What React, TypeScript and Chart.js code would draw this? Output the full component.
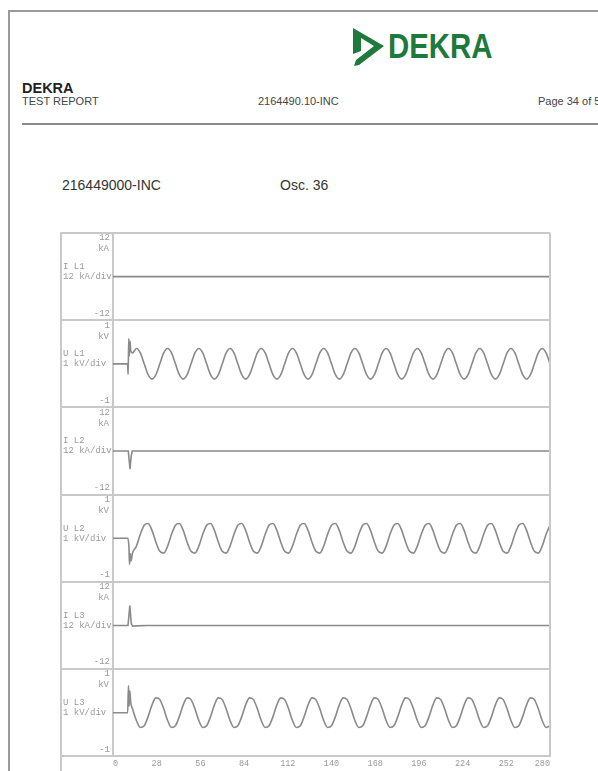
import React, { useEffect, useRef } from 'react';
import { Chart, registerables } from 'chart.js';

Chart.register(...registerables);

// ---------- axis / panel definitions ----------
const xTicks = [0, 28, 56, 84, 112, 140, 168, 196, 224, 252, 280];
const panelIds = ['y1', 'y2', 'y3', 'y4', 'y5', 'y6'];
const panelNames = ['I L1', 'U L1', 'I L2', 'U L2', 'I L3', 'U L3'];
const panelDivs = ['12 kA/div', '1 kV/div', '12 kA/div', '1 kV/div', '12 kA/div', '1 kV/div'];
const panelUnits = ['kA', 'kV', 'kA', 'kV', 'kA', 'kV'];
const panelMax = [12, 1, 12, 1, 12, 1];
const panelMin = [-12, -1, -12, -1, -12, -1];

// ---------- current traces (kA) ----------
const iL1Time = [0, 280];
const iL1Value = [0, 0];
const iL2Time = [0, 9.8, 10.9, 11.6, 12.3, 280];
const iL2Value = [0, 0, -5.0, -1.5, 0, 0];
const iL3Time = [0, 9.6, 10.8, 11.7, 12.5, 14.5, 22, 280];
const iL3Value = [0, 0, 5.5, 0.6, -0.2, -0.1, 0, 0];

// ---------- voltage traces (kV) ----------
const uL1EventTime = [0, 9.3, 9.7, 10.1, 10.5, 10.9, 11.4];
const uL1EventValue = [0, 0, -0.24, 0.58, 0.18, 0.52, 0.3];
const uL2EventTime = [0, 9.5, 10.2, 10.6, 11.0, 11.5];
const uL2EventValue = [0, 0, -0.2, -0.6, -0.35, -0.52];
const uL3EventTime = [0, 9.4, 9.9, 10.3, 10.8, 11.3];
const uL3EventValue = [0, 0, 0.62, 0.15, 0.5, 0.25];

const waveTime = [
  12.5, 15, 17.5, 20, 22.5, 25, 27.5, 30,
  32.5, 35, 37.5, 40, 42.5, 45, 47.5, 50,
  52.5, 55, 57.5, 60, 62.5, 65, 67.5, 70,
  72.5, 75, 77.5, 80, 82.5, 85, 87.5, 90,
  92.5, 95, 97.5, 100, 102.5, 105, 107.5, 110,
  112.5, 115, 117.5, 120, 122.5, 125, 127.5, 130,
  132.5, 135, 137.5, 140, 142.5, 145, 147.5, 150,
  152.5, 155, 157.5, 160, 162.5, 165, 167.5, 170,
  172.5, 175, 177.5, 180, 182.5, 185, 187.5, 190,
  192.5, 195, 197.5, 200, 202.5, 205, 207.5, 210,
  212.5, 215, 217.5, 220, 222.5, 225, 227.5, 230,
  232.5, 235, 237.5, 240, 242.5, 245, 247.5, 250,
  252.5, 255, 257.5, 260, 262.5, 265, 267.5, 270,
  272.5, 275, 277.5, 280,
];

const uL1Wave = [
  0.25, 0.35, 0.25, 0, -0.25, -0.35, -0.25, 0,
  0.25, 0.35, 0.25, 0, -0.25, -0.35, -0.25, 0,
  0.25, 0.35, 0.25, 0, -0.25, -0.35, -0.25, 0,
  0.25, 0.35, 0.25, 0, -0.25, -0.35, -0.25, 0,
  0.25, 0.35, 0.25, 0, -0.25, -0.35, -0.25, 0,
  0.25, 0.35, 0.25, 0, -0.25, -0.35, -0.25, 0,
  0.25, 0.35, 0.25, 0, -0.25, -0.35, -0.25, 0,
  0.25, 0.35, 0.25, 0, -0.25, -0.35, -0.25, 0,
  0.25, 0.35, 0.25, 0, -0.25, -0.35, -0.25, 0,
  0.25, 0.35, 0.25, 0, -0.25, -0.35, -0.25, 0,
  0.25, 0.35, 0.25, 0, -0.25, -0.35, -0.25, 0,
  0.25, 0.35, 0.25, 0, -0.25, -0.35, -0.25, 0,
  0.25, 0.35, 0.25, 0, -0.25, -0.35, -0.25, 0,
  0.25, 0.35, 0.25, 0,
];

const uL2Wave = [
  -0.34, -0.18, 0.09, 0.3, 0.34, 0.18, -0.09, -0.3,
  -0.34, -0.18, 0.09, 0.3, 0.34, 0.18, -0.09, -0.3,
  -0.34, -0.18, 0.09, 0.3, 0.34, 0.18, -0.09, -0.3,
  -0.34, -0.18, 0.09, 0.3, 0.34, 0.18, -0.09, -0.3,
  -0.34, -0.18, 0.09, 0.3, 0.34, 0.18, -0.09, -0.3,
  -0.34, -0.18, 0.09, 0.3, 0.34, 0.18, -0.09, -0.3,
  -0.34, -0.18, 0.09, 0.3, 0.34, 0.18, -0.09, -0.3,
  -0.34, -0.18, 0.09, 0.3, 0.34, 0.18, -0.09, -0.3,
  -0.34, -0.18, 0.09, 0.3, 0.34, 0.18, -0.09, -0.3,
  -0.34, -0.18, 0.09, 0.3, 0.34, 0.18, -0.09, -0.3,
  -0.34, -0.18, 0.09, 0.3, 0.34, 0.18, -0.09, -0.3,
  -0.34, -0.18, 0.09, 0.3, 0.34, 0.18, -0.09, -0.3,
  -0.34, -0.18, 0.09, 0.3, 0.34, 0.18, -0.09, -0.3,
  -0.34, -0.18, 0.09, 0.3,
];

const uL3Wave = [
  0.09, -0.18, -0.34, -0.3, -0.09, 0.18, 0.34, 0.3,
  0.09, -0.18, -0.34, -0.3, -0.09, 0.18, 0.34, 0.3,
  0.09, -0.18, -0.34, -0.3, -0.09, 0.18, 0.34, 0.3,
  0.09, -0.18, -0.34, -0.3, -0.09, 0.18, 0.34, 0.3,
  0.09, -0.18, -0.34, -0.3, -0.09, 0.18, 0.34, 0.3,
  0.09, -0.18, -0.34, -0.3, -0.09, 0.18, 0.34, 0.3,
  0.09, -0.18, -0.34, -0.3, -0.09, 0.18, 0.34, 0.3,
  0.09, -0.18, -0.34, -0.3, -0.09, 0.18, 0.34, 0.3,
  0.09, -0.18, -0.34, -0.3, -0.09, 0.18, 0.34, 0.3,
  0.09, -0.18, -0.34, -0.3, -0.09, 0.18, 0.34, 0.3,
  0.09, -0.18, -0.34, -0.3, -0.09, 0.18, 0.34, 0.3,
  0.09, -0.18, -0.34, -0.3, -0.09, 0.18, 0.34, 0.3,
  0.09, -0.18, -0.34, -0.3, -0.09, 0.18, 0.34, 0.3,
  0.09, -0.18, -0.34, -0.3,
];

// ---------- styles ----------
const FRAME = '#c9c9c9';
const TRACE = '#8a8a8a';
const LABEL = '#9a9a9a';
const MONO = '"Liberation Mono", "DejaVu Sans Mono", monospace';
const SANS = '"Liberation Sans", Arial, sans-serif';
const GREEN = '#1d7a3c';

const zip = (t: number[], v: number[]) => t.map((x, i) => ({ x, y: v[i] }));

const oscLabels = {
  id: 'oscLabels',
  afterDraw(chart: any) {
    const ctx = chart.ctx;
    const area = chart.chartArea;
    const first = chart.scales[panelIds[0]];
    const canvasBottom = chart.height;
    ctx.save();
    // outer frame (left edge of label column and right edge)
    ctx.strokeStyle = FRAME;
    ctx.lineWidth = 2;
    ctx.beginPath();
    ctx.moveTo(first.left + 1, area.top);
    ctx.lineTo(first.left + 1, canvasBottom);
    ctx.moveTo(area.right, area.top);
    ctx.lineTo(area.right, area.bottom);
    ctx.stroke();

    ctx.fillStyle = LABEL;
    ctx.font = `9px ${MONO}`;
    panelIds.forEach((id, i) => {
      const s = chart.scales[id];
      const zero = s.getPixelForValue(0);
      ctx.textBaseline = 'middle';
      ctx.textAlign = 'right';
      ctx.fillText(String(panelMax[i]), s.right - 3, s.top + 5);
      ctx.fillText(panelUnits[i], s.right - 4, s.top + 16);
      ctx.fillText(String(panelMin[i]), s.right - 3, s.bottom - 7);
      ctx.textAlign = 'left';
      ctx.fillText(panelNames[i], s.left + 3, zero - 10);
      ctx.fillText(panelDivs[i], s.left + 3, zero);
    });
    ctx.restore();
  },
};

function OscChart() {
  const ref = useRef<HTMLCanvasElement>(null);
  useEffect(() => {
    const canvas = ref.current;
    if (!canvas) return;
    const scales: any = {
      x: {
        type: 'linear',
        position: 'bottom',
        min: 0,
        max: 280,
        afterBuildTicks: (s: any) => {
          s.ticks = xTicks.map((v) => ({ value: v }));
        },
        ticks: {
          autoSkip: false,
          maxRotation: 0,
          align: 'inner',
          padding: 2,
          color: LABEL,
          font: { family: MONO, size: 8.5 },
        },
        grid: { display: false, drawTicks: false, tickLength: 0 },
        border: { display: true, color: FRAME, width: 2 },
      },
    };
    panelIds.forEach((id, i) => {
      scales[id] = {
        type: 'linear',
        position: 'left',
        stack: 'osc',
        stackWeight: 1,
        weight: panelIds.length - i,
        min: panelMin[i],
        max: panelMax[i],
        afterBuildTicks: (s: any) => {
          s.ticks = [{ value: panelMin[i] }, { value: panelMax[i] }];
        },
        ticks: { display: false },
        grid: {
          color: FRAME,
          lineWidth: 2,
          drawTicks: true,
          tickLength: 53,
          tickColor: FRAME,
          tickWidth: 2,
        },
        border: { display: true, color: FRAME, width: 2 },
      };
    });

    const base = { borderColor: TRACE, borderWidth: 1.6, pointRadius: 0, fill: false };
    const chart = new Chart(canvas, {
      type: 'line',
      data: {
        datasets: [
          { ...base, label: 'I L1', yAxisID: 'y1', data: zip(iL1Time, iL1Value) },
          {
            ...base,
            label: 'U L1',
            yAxisID: 'y2',
            cubicInterpolationMode: 'monotone',
            data: [...zip(uL1EventTime, uL1EventValue), ...zip(waveTime, uL1Wave)],
          },
          { ...base, label: 'I L2', yAxisID: 'y3', data: zip(iL2Time, iL2Value) },
          {
            ...base,
            label: 'U L2',
            yAxisID: 'y4',
            cubicInterpolationMode: 'monotone',
            data: [...zip(uL2EventTime, uL2EventValue), ...zip(waveTime, uL2Wave)],
          },
          { ...base, label: 'I L3', yAxisID: 'y5', data: zip(iL3Time, iL3Value) },
          {
            ...base,
            label: 'U L3',
            yAxisID: 'y6',
            cubicInterpolationMode: 'monotone',
            data: [...zip(uL3EventTime, uL3EventValue), ...zip(waveTime, uL3Wave)],
          },
        ] as any,
      },
      options: {
        responsive: false,
        animation: false,
        events: [],
        layout: { padding: { left: 10, right: 10, top: 8, bottom: 0.5 } },
        plugins: { legend: { display: false }, tooltip: { enabled: false } },
        scales,
      } as any,
      plugins: [oscLabels],
    });
    return () => chart.destroy();
  }, []);
  return (
    <canvas
      ref={ref}
      width={510}
      height={546}
      style={{ position: 'absolute', left: 50, top: 225, width: 510, height: 546 }}
    />
  );
}

export default function App() {
  return (
    <div
      style={{
        position: 'fixed',
        left: 0,
        top: 0,
        width: 598,
        height: 771,
        overflow: 'hidden',
        background: '#fff',
        fontFamily: SANS,
      }}
    >
      {/* page edge */}
      <div style={{ position: 'absolute', left: 8, top: 10, width: 600, height: 780, borderTop: '2px solid #9a9a9a', borderLeft: '2px solid #9a9a9a' }} />

      {/* logo */}
      <svg style={{ position: 'absolute', left: 351, top: 27 }} width={34} height={40} viewBox="0 0 34 40">
        <path d="M2 1 L33 19 L8 38 L3 39 L5 33 L23 19 L10 11 L10 24 L2 27 Z" fill={GREEN} />
      </svg>
      <div
        style={{
          position: 'absolute',
          left: 388,
          top: 27,
          fontSize: 35,
          fontWeight: 700,
          color: GREEN,
          transform: 'scaleX(0.84)',
          transformOrigin: 'left top',
          lineHeight: '38px',
          letterSpacing: 0,
        }}
      >
        DEKRA
      </div>

      {/* report header */}
      <div style={{ position: 'absolute', left: 22, top: 80, fontSize: 14.5, fontWeight: 700, color: '#222', lineHeight: '16px' }}>DEKRA</div>
      <div style={{ position: 'absolute', left: 22, top: 95, fontSize: 11, color: '#444', lineHeight: '13px' }}>TEST REPORT</div>
      <div style={{ position: 'absolute', left: 258, top: 95, fontSize: 11, color: '#444', lineHeight: '13px', whiteSpace: 'nowrap' }}>2164490.10-INC</div>
      <div style={{ position: 'absolute', left: 538, top: 95, fontSize: 11, color: '#444', lineHeight: '13px', whiteSpace: 'nowrap' }}>Page 34 of 55</div>
      <div style={{ position: 'absolute', left: 22, top: 123, width: 576, height: 2, background: '#8c8c8c' }} />

      {/* chart caption */}
      <div style={{ position: 'absolute', left: 62, top: 177, fontSize: 14, color: '#333', lineHeight: '16px' }}>216449000-INC</div>
      <div style={{ position: 'absolute', left: 280, top: 177, fontSize: 14, color: '#333', lineHeight: '16px' }}>Osc. 36</div>

      <OscChart />
    </div>
  );
}
